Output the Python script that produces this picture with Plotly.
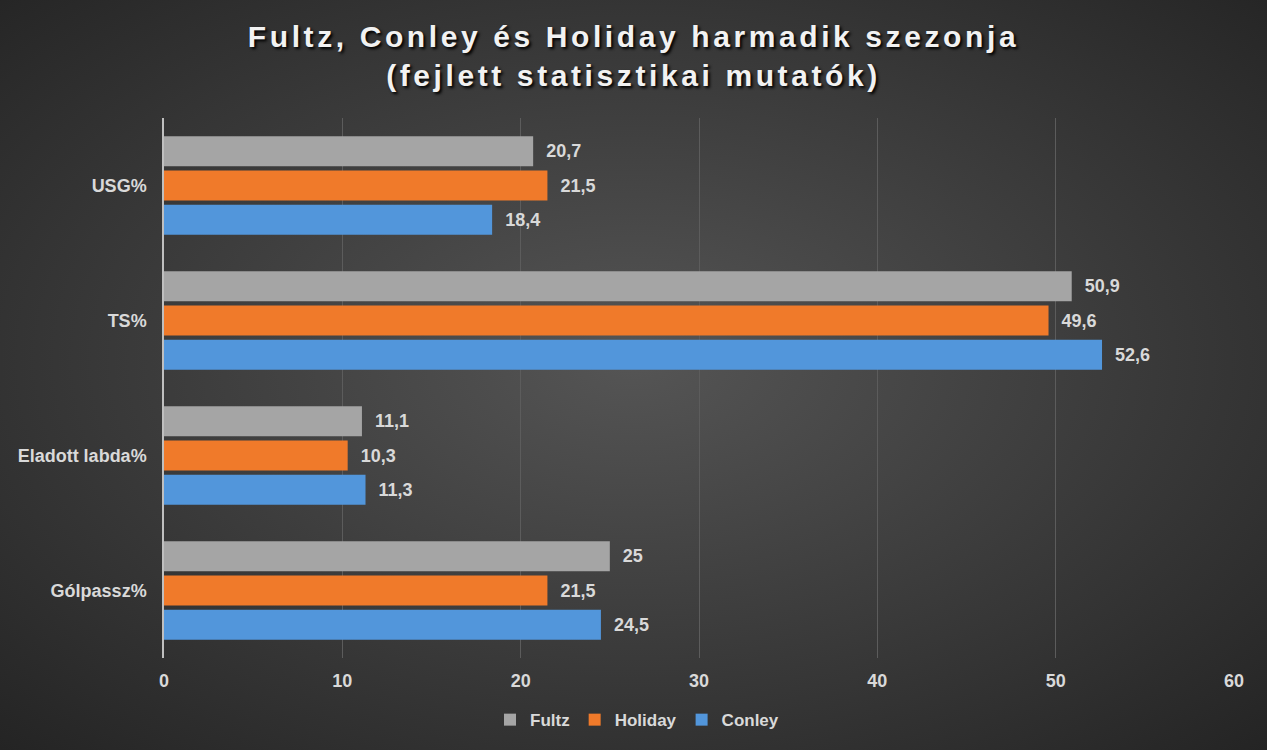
import plotly.graph_objects as go
import urllib.parse

categories = ["USG%", "TS%", "Eladott labda%", "Gólpassz%"]
fultz = [20.7, 50.9, 11.1, 25]
holiday = [21.5, 49.6, 10.3, 21.5]
conley = [18.4, 52.6, 11.3, 24.5]
series_names = ["Fultz", "Holiday", "Conley"]
colors = ["#A5A5A5", "#F07A2A", "#5296DB"]
x_ticks = [0, 10, 20, 30, 40, 50, 60]

W, H = 1267, 750
L, R, T, B = 164, 33, 118, 92
pw, ph = W - L - R, H - T - B

def fmt(v):
    return "\u00a0\u00a0" + ("%g" % v).replace(".", ",")

fig = go.Figure()
for name, vals, col in zip(series_names, [fultz, holiday, conley], colors):
    fig.add_trace(go.Bar(
        y=categories, x=vals, name=name, orientation="h",
        marker=dict(color=col, line=dict(width=0)),
        text=[fmt(v) for v in vals], textposition="outside",
        textfont=dict(color="#D9D9D9", size=18, family="Liberation Sans", weight="bold"),
        cliponaxis=False,
    ))

svg = (
    f'<svg xmlns="http://www.w3.org/2000/svg" width="{W}" height="{H}">'
    '<defs><radialGradient id="g" cx="50%" cy="48%" r="75%">'
    '<stop offset="0%" stop-color="#555555"/>'
    '<stop offset="100%" stop-color="#222222"/>'
    '</radialGradient></defs>'
    f'<rect width="{W}" height="{H}" fill="url(#g)"/></svg>'
)
bg = "data:image/svg+xml;charset=utf-8," + urllib.parse.quote(svg)

fig.update_layout(
    width=W, height=H,
    margin=dict(l=L, r=R, t=T, b=B, pad=0),
    paper_bgcolor="#3a3a3a", plot_bgcolor="rgba(0,0,0,0)",
    images=[dict(source=bg, xref="paper", yref="paper",
                 x=-L / pw, y=1 + T / ph, sizex=W / pw, sizey=H / ph,
                 xanchor="left", yanchor="top", sizing="stretch", layer="below")],
    barmode="group", bargap=0.24, bargroupgap=0.12,
    title=dict(
        text="Fultz, Conley és Holiday harmadik szezonja<br>(fejlett statisztikai mutatók)",
        x=0.5, xref="container", xanchor="center", y=0.938, yref="container", yanchor="middle",
        font=dict(family="Liberation Sans", size=30, color="#F2F2F2", weight="bold",
                  shadow="2px 2px 3px #000000"),
    ),
    font=dict(family="Liberation Sans", color="#D9D9D9"),
    xaxis=dict(range=[0, 60], tickvals=x_ticks, showgrid=True, gridcolor="#5c5c5c",
               gridwidth=1, zeroline=False, showline=False,
               tickfont=dict(size=18, color="#D9D9D9", weight="bold"),
               ticks="", ticklabelstandoff=10),
    yaxis=dict(autorange="reversed", showline=True, linecolor="#BFBFBF", linewidth=1.5,
               showgrid=False, ticks="", ticklabelstandoff=12,
               tickfont=dict(size=18, color="#D9D9D9", weight="bold")),
    legend=dict(orientation="h", x=(637 - L) / pw, xanchor="center",
                y=-0.115, yanchor="middle",
                bgcolor="rgba(0,0,0,0)",
                font=dict(size=17, color="#D9D9D9", weight="bold"),
                itemwidth=30, traceorder="normal"),
    showlegend=True,
)

post = """
(function(){
  function fix(){
    document.querySelectorAll('.gtitle').forEach(function(e){
      e.style.letterSpacing='3.6px';
    });
  }
  fix(); setTimeout(fix, 50);
})();
"""

fig.write_html("out.html", post_script=post)
